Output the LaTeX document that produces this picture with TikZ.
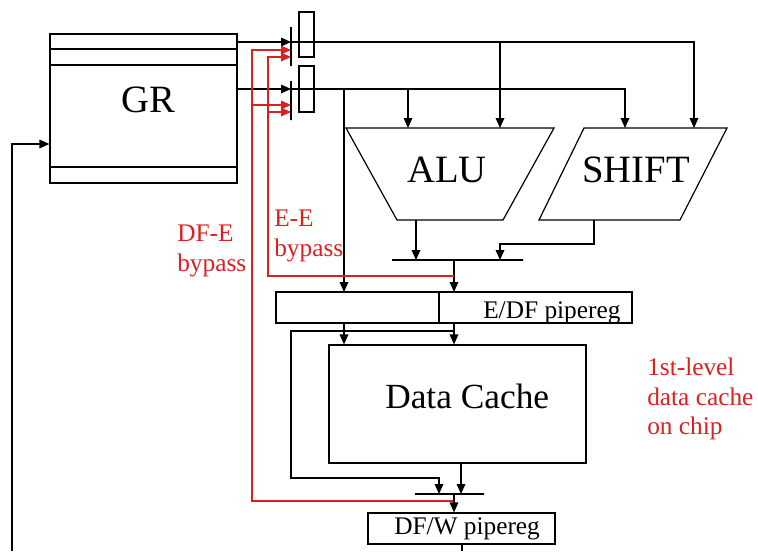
\documentclass[tikz,border=0pt]{standalone}
\usepackage{fontspec}
\setmainfont{Liberation Serif}
\usetikzlibrary{arrows.meta,fit}
\definecolor{byred}{RGB}{218,32,32}
\newcommand{\ArrTip}{Triangle[length=7.5,width=6.5]}
\tikzset{box/.style={draw,inner sep=0,minimum size=0,line width=.9pt},
unit/.style={draw,line width=.9pt,line join=miter},
wire/.style={line width=.9pt,-{\ArrTip}},
bywire/.style={byred,line width=.9pt,-{\ArrTip}},
bigtxt/.style={inner sep=0,anchor=base west,font=\fontsize{29}{34}\selectfont},
smalltxt/.style={inner sep=0,font=\fontsize{19}{22}\selectfont}}
\begin{document}
\begin{tikzpicture}[x=.75pt,y=-.75pt]
\useasboundingbox(0,0)rectangle(758,551);
\node[box,fit={(50,34)(237,183)}](gr){};\draw[line width=.9pt](50,49)--(237,49)(50,65)--(237,65)(50,167)--(237,167);
\node[bigtxt](grtxt)at(121,112){GR};
\node[box,fit={(291,27)(291,66)}](barA){};\node[box,fit={(291,81)(291,120)}](barB){};
\node[box,fit={(299,12)(314,57)}](regA){};\node[box,fit={(299,66)(314,112)}](regB){};
\coordinate(busA)at(291,42);\coordinate(busB)at(291,89);
\draw[wire](gr.east|-busA)--(busA);\draw[wire](gr.east|-busB)--(busB);
\coordinate(aluNW)at(346,128);\coordinate(aluNE)at(554,128);\coordinate(aluSE)at(503,220);\coordinate(aluSW)at(397,220);
\draw[unit](aluNW)--(aluNE)--(aluSE)--(aluSW)--cycle;\node[bigtxt](alutxt)at(407,182){ALU};
\coordinate(shNW)at(584,128);\coordinate(shNE)at(727,128);\coordinate(shSE)at(680,220);\coordinate(shSW)at(539,220);
\draw[unit](shNW)--(shNE)--(shSE)--(shSW)--cycle;\node[bigtxt](shtxt)at(582,182){SHIFT};
\coordinate(aluInA)at(408,128);\coordinate(aluInB)at(500,128);\coordinate(shInA)at(625,128);\coordinate(shInB)at(694,128);
\draw[wire](busA)-|(shInB);\draw[wire](busA-|aluInB)--(aluInB);
\draw[wire](busB)-|(shInA);\draw[wire](busB-|aluInA)--(aluInA);
\node[box,fit={(392,260)(523,260)}](exbar){};
\coordinate(aluOut)at(416,220);\coordinate(shOut)at(594,220);\coordinate(exInB)at(500,260);
\draw[wire](aluOut)--(aluOut|-exbar);\draw[wire](shOut)--++(0,24)-|(exInB);
\node[box,fit={(276,292)(632,323)}](edf){};\draw[line width=.9pt](439,0|-edf.north)--(439,0|-edf.south);
\node[smalltxt,anchor=base west](edftxt)at(483,318){E/DF pipereg};
\coordinate(edfInA)at(344,292);\coordinate(edfInB)at(454,292);
\draw[wire](busB-|edfInA)--(edfInA);\draw[wire](edfInB|-exbar)--(edfInB);
\coordinate(eeTap)at(454,276);\coordinate(dfeTap)at(454,501);
\draw[bywire](eeTap)-|(268,57)--(barA|-0,57);\draw[bywire](268,112)--(barB|-0,112);
\draw[bywire](dfeTap)-|(252,50)--(barA|-0,50);\draw[bywire](252,105)--(barB|-0,105);
\node[box,fit={(329,345)(586,463)}](dc){};
\node[inner sep=0,anchor=base west,font=\fontsize{26.5}{30}\selectfont](dctxt)at(385,408){Data Cache};
\draw[wire](edfInA|-edf.south)--(edfInA|-dc.north);\draw[wire](edfInB|-edf.south)--(edfInB|-dc.north);
\node[box,fit={(415,494)(484,494)}](dfbar){};
\coordinate(dfInA)at(439,494);\coordinate(dfInB)at(461,494);
\draw[wire](edfInB|-0,331)-|(291,478)-|(dfInA);\draw[wire](dc.south-|dfInB)--(dfInB);
\node[box,fit={(368,513)(555,544)}](dfw){};\node[smalltxt,anchor=base west](dfwtxt)at(394,534){DF/W pipereg};
\draw[wire](dfeTap|-dfbar)--(dfeTap|-dfw.north);\draw[line width=.9pt](462,0|-dfw.south)--(462,551);
\draw[wire](12,551)|-(gr.west|-0,144);
\node[smalltxt,byred,align=left,anchor=north west](dfelbl)at(177,225){DF-E\\bypass};
\node[smalltxt,byred,align=left,anchor=north west](eelbl)at(274,210){E-E\\bypass};
\node[smalltxt,byred,align=left,anchor=north west](l1lbl)at(647,358){1st-level\\data cache\\on chip};
\end{tikzpicture}
\end{document}
